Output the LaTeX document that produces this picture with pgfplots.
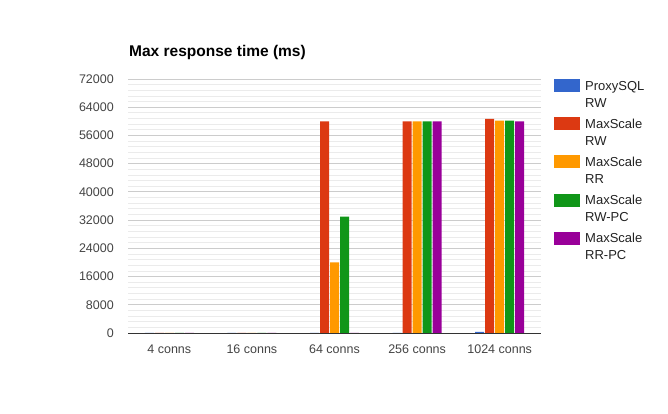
\documentclass[border=0pt]{standalone}
\usepackage{pgfplots}
\pgfplotsset{compat=1.18}
\usepackage{fontspec}
\setmainfont{Liberation Sans}
\definecolor{cBlue}{HTML}{3366CC}
\definecolor{cRed}{HTML}{DC3912}
\definecolor{cOrange}{HTML}{FF9900}
\definecolor{cGreen}{HTML}{109618}
\definecolor{cPurple}{HTML}{990099}
\definecolor{gridMajor}{HTML}{CCCCCC}
\definecolor{gridMinor}{HTML}{EBEBEB}
\definecolor{axisDark}{HTML}{333333}
\definecolor{labelGray}{HTML}{444444}
\definecolor{textDark}{HTML}{222222}
\newcommand\legtext[2]{\begin{tabular}[t]{@{}l@{}}#1\\#2\end{tabular}}
\begin{document}
\begin{tikzpicture}
\useasboundingbox (0pt,0pt) rectangle (668pt,413pt);
\begin{axis}[
  at={(128pt,80pt)}, anchor=south west,
  scale only axis, width=413pt, height=254pt,
  ybar=1pt, bar width=9pt,
  xmin=-0.5, xmax=4.5, ymin=0, ymax=72000,
  xtick={0,1,2,3,4},
  xticklabels={4 conns,16 conns,64 conns,256 conns,1024 conns},
  ytick={0,8000,...,72000},
  minor y tick num=4,
  ymajorgrids, yminorgrids,
  major grid style={gridMajor, line width=0.8pt},
  minor grid style={gridMinor, line width=0.8pt},
  axis line style={draw=none},
  tick style={draw=none},
  major tick length=0pt, minor tick length=0pt,
  scaled y ticks=false,
  /pgf/number format/1000 sep={},
  /pgf/number format/assume math mode=true,
  yticklabel style={font=\fontsize{12.5}{14}\selectfont, text=labelGray, inner sep=0pt, anchor=east, xshift=-14pt},
  xticklabel style={font=\fontsize{12.5}{14}\selectfont, text=labelGray, inner sep=0pt, anchor=north, yshift=-12pt},
  legend image code/.code={\fill[#1,draw=none] (0pt,-7pt) rectangle (26pt,6pt);},
  legend style={at={(1,1)}, anchor=north west, xshift=13pt, yshift=1pt,
    draw=none, fill=none, inner sep=0pt, row sep=24.5pt, column sep=5pt,
    font=\fontsize{13}{17}\selectfont, text=textDark,
    nodes={inner sep=0pt}},
  legend cell align=left,
]
\addplot[fill=cBlue, draw=none] coordinates {(0,5) (1,5) (2,10) (3,20) (4,350)};
\addlegendentry{\legtext{ProxySQL}{RW}}
\addplot[fill=cRed, draw=none] coordinates {(0,5) (1,5) (2,60000) (3,60000) (4,60700)};
\addlegendentry{\legtext{MaxScale}{RW}}
\addplot[fill=cOrange, draw=none] coordinates {(0,5) (1,5) (2,20000) (3,60000) (4,60200)};
\addlegendentry{\legtext{MaxScale}{RR}}
\addplot[fill=cGreen, draw=none] coordinates {(0,5) (1,5) (2,33000) (3,60000) (4,60200)};
\addlegendentry{\legtext{MaxScale}{RW-PC}}
\addplot[fill=cPurple, draw=none] coordinates {(0,5) (1,5) (2,5) (3,60000) (4,60000)};
\addlegendentry{\legtext{MaxScale}{RR-PC}}
\draw[axisDark, line width=1pt] (axis cs:-0.5,0) -- (axis cs:4.5,0);
\end{axis}
\node[anchor=base west, inner sep=0pt, font=\bfseries\fontsize{15.5}{18}\selectfont] at (129pt,356pt) {Max response time (ms)};
\end{tikzpicture}
\end{document}
